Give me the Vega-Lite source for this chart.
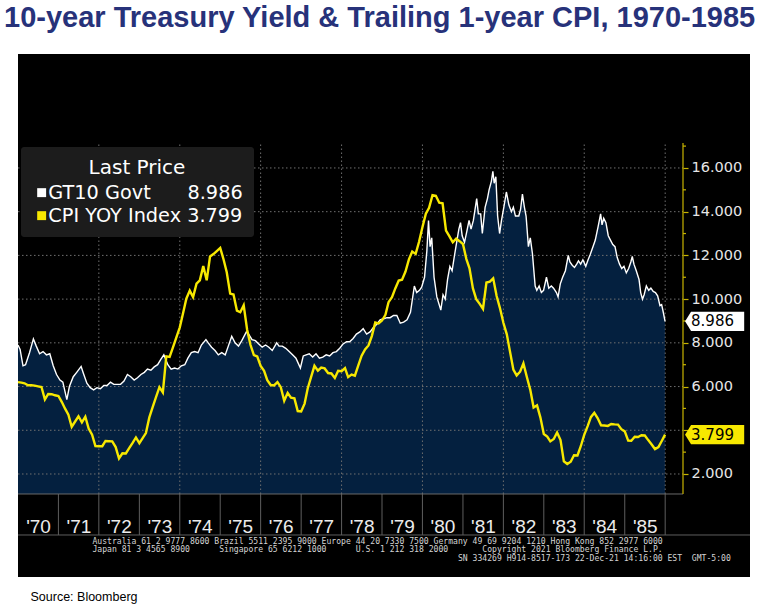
{
  "$schema": "https://vega.github.io/schema/vega-lite/v6.json",
  "width": 732,
  "height": 523,
  "autosize": "none",
  "padding": {"left": 18, "top": 54, "right": 21, "bottom": 32},
  "background": "#ffffff",
  "title": {
    "text": "10-year Treasury Yield & Trailing 1-year CPI, 1970-1985",
    "anchor": "start",
    "frame": "group",
    "font": "Liberation Sans",
    "fontSize": 29,
    "fontWeight": "bold",
    "color": "#27327a",
    "dx": -14,
    "dy": 28,
    "offset": 26,
    "baseline": "alphabetic"
  },
  "config": {
    "view": {"fill": "#000000", "stroke": null}
  },
  "datasets": {
    "gt": [
      {"d":"1970-01-01","v":7.90},{"d":"1970-01-20","v":7.70},{"d":"1970-02-15","v":6.95},{"d":"1970-03-10","v":7.00},{"d":"1970-04-15","v":7.55},{"d":"1970-05-20","v":8.18},{"d":"1970-06-15","v":7.85},{"d":"1970-07-15","v":7.50},{"d":"1970-08-15","v":7.60},{"d":"1970-09-15","v":7.45},{"d":"1970-10-15","v":7.50},{"d":"1970-11-15","v":6.95},{"d":"1970-12-15","v":6.55},
      {"d":"1971-01-15","v":6.30},{"d":"1971-02-10","v":6.20},{"d":"1971-03-18","v":5.40},{"d":"1971-04-10","v":6.00},{"d":"1971-05-15","v":6.45},{"d":"1971-06-15","v":6.65},{"d":"1971-07-25","v":6.92},{"d":"1971-08-15","v":6.60},{"d":"1971-09-15","v":6.15},{"d":"1971-10-15","v":5.95},{"d":"1971-11-15","v":5.85},{"d":"1971-12-15","v":5.95},
      {"d":"1972-01-15","v":5.90},{"d":"1972-02-15","v":6.05},{"d":"1972-03-15","v":6.05},{"d":"1972-04-15","v":6.20},{"d":"1972-05-15","v":6.10},{"d":"1972-06-15","v":6.10},{"d":"1972-07-15","v":6.10},{"d":"1972-08-15","v":6.25},{"d":"1972-09-15","v":6.55},{"d":"1972-10-15","v":6.45},{"d":"1972-11-15","v":6.30},{"d":"1972-12-15","v":6.40},
      {"d":"1973-01-15","v":6.55},{"d":"1973-02-15","v":6.65},{"d":"1973-03-15","v":6.80},{"d":"1973-04-15","v":6.75},{"d":"1973-05-15","v":6.90},{"d":"1973-06-15","v":7.00},{"d":"1973-07-15","v":7.25},{"d":"1973-08-10","v":7.45},{"d":"1973-09-15","v":7.00},{"d":"1973-10-15","v":6.80},{"d":"1973-11-15","v":6.85},{"d":"1973-12-15","v":6.80},
      {"d":"1974-01-15","v":6.95},{"d":"1974-02-15","v":7.00},{"d":"1974-03-15","v":7.30},{"d":"1974-04-15","v":7.55},{"d":"1974-05-15","v":7.60},{"d":"1974-06-15","v":7.55},{"d":"1974-07-15","v":7.90},{"d":"1974-08-25","v":8.15},{"d":"1974-09-15","v":8.00},{"d":"1974-10-15","v":7.80},{"d":"1974-11-15","v":7.65},{"d":"1974-12-15","v":7.45},
      {"d":"1975-01-15","v":7.55},{"d":"1975-02-15","v":7.45},{"d":"1975-03-15","v":7.85},{"d":"1975-04-15","v":8.30},{"d":"1975-05-15","v":8.00},{"d":"1975-06-15","v":7.85},{"d":"1975-07-15","v":8.10},{"d":"1975-08-25","v":8.50},{"d":"1975-09-15","v":8.40},{"d":"1975-10-15","v":8.15},{"d":"1975-11-15","v":8.10},{"d":"1975-12-15","v":7.95},
      {"d":"1976-01-15","v":7.80},{"d":"1976-02-15","v":7.90},{"d":"1976-03-15","v":7.80},{"d":"1976-04-15","v":7.65},{"d":"1976-05-25","v":8.00},{"d":"1976-06-15","v":7.85},{"d":"1976-07-15","v":7.85},{"d":"1976-08-15","v":7.75},{"d":"1976-09-15","v":7.60},{"d":"1976-10-15","v":7.45},{"d":"1976-11-15","v":7.30},{"d":"1976-12-25","v":6.85},
      {"d":"1977-01-20","v":7.40},{"d":"1977-02-15","v":7.45},{"d":"1977-03-15","v":7.50},{"d":"1977-04-15","v":7.35},{"d":"1977-05-15","v":7.50},{"d":"1977-06-15","v":7.30},{"d":"1977-07-15","v":7.35},{"d":"1977-08-15","v":7.45},{"d":"1977-09-15","v":7.40},{"d":"1977-10-15","v":7.55},{"d":"1977-11-15","v":7.60},{"d":"1977-12-15","v":7.75},
      {"d":"1978-01-15","v":7.95},{"d":"1978-02-15","v":8.05},{"d":"1978-03-15","v":8.05},{"d":"1978-04-15","v":8.20},{"d":"1978-05-15","v":8.40},{"d":"1978-06-15","v":8.50},{"d":"1978-07-15","v":8.65},{"d":"1978-08-15","v":8.40},{"d":"1978-09-15","v":8.50},{"d":"1978-10-15","v":8.70},{"d":"1978-11-15","v":8.85},{"d":"1978-12-15","v":9.05},
      {"d":"1979-01-15","v":9.10},{"d":"1979-02-15","v":9.15},{"d":"1979-03-15","v":9.15},{"d":"1979-04-15","v":9.25},{"d":"1979-05-15","v":9.25},{"d":"1979-06-15","v":8.90},{"d":"1979-07-15","v":8.95},{"d":"1979-08-15","v":9.05},{"d":"1979-09-15","v":9.40},{"d":"1979-10-20","v":10.60},{"d":"1979-11-10","v":10.30},{"d":"1979-12-05","v":10.40},{"d":"1979-12-25","v":10.55},
      {"d":"1980-01-20","v":11.00},{"d":"1980-02-10","v":12.20},{"d":"1980-02-25","v":13.60},{"d":"1980-03-10","v":12.40},{"d":"1980-03-25","v":12.80},{"d":"1980-04-15","v":11.00},{"d":"1980-05-10","v":10.10},{"d":"1980-06-15","v":9.50},{"d":"1980-07-05","v":10.20},{"d":"1980-07-25","v":10.00},{"d":"1980-08-15","v":10.90},{"d":"1980-09-05","v":11.50},{"d":"1980-09-25","v":11.30},{"d":"1980-10-15","v":11.95},{"d":"1980-11-05","v":12.60},{"d":"1980-11-25","v":13.20},{"d":"1980-12-10","v":13.50},{"d":"1980-12-25","v":12.90},
      {"d":"1981-01-15","v":12.60},{"d":"1981-02-05","v":13.10},{"d":"1981-02-25","v":13.60},{"d":"1981-03-15","v":13.20},{"d":"1981-04-05","v":13.60},{"d":"1981-05-05","v":14.60},{"d":"1981-05-20","v":13.90},{"d":"1981-06-10","v":13.90},{"d":"1981-06-25","v":13.00},{"d":"1981-07-20","v":14.20},{"d":"1981-08-10","v":14.60},{"d":"1981-08-25","v":15.00},{"d":"1981-09-15","v":15.40},{"d":"1981-09-28","v":15.85},{"d":"1981-10-10","v":15.30},{"d":"1981-10-25","v":15.60},{"d":"1981-11-10","v":13.80},{"d":"1981-11-28","v":13.00},{"d":"1981-12-15","v":13.60},
      {"d":"1982-01-05","v":14.20},{"d":"1982-01-28","v":14.90},{"d":"1982-02-20","v":14.30},{"d":"1982-03-15","v":14.00},{"d":"1982-04-01","v":14.20},{"d":"1982-04-20","v":13.80},{"d":"1982-05-20","v":13.80},{"d":"1982-06-05","v":14.10},{"d":"1982-06-22","v":14.80},{"d":"1982-07-10","v":14.20},{"d":"1982-07-25","v":13.80},{"d":"1982-08-15","v":12.40},{"d":"1982-09-01","v":12.80},{"d":"1982-09-20","v":12.10},{"d":"1982-10-15","v":10.60},{"d":"1982-10-30","v":10.40},{"d":"1982-11-20","v":10.60},{"d":"1982-12-10","v":10.30},{"d":"1982-12-30","v":10.40},
      {"d":"1983-01-25","v":11.00},{"d":"1983-02-15","v":10.50},{"d":"1983-03-10","v":10.60},{"d":"1983-03-30","v":10.50},{"d":"1983-04-25","v":10.30},{"d":"1983-05-10","v":10.10},{"d":"1983-05-30","v":10.70},{"d":"1983-06-20","v":11.00},{"d":"1983-07-15","v":11.30},{"d":"1983-08-10","v":12.00},{"d":"1983-08-25","v":11.70},{"d":"1983-09-15","v":11.55},{"d":"1983-10-05","v":11.45},{"d":"1983-10-25","v":11.60},{"d":"1983-11-10","v":11.75},{"d":"1983-11-30","v":11.60},{"d":"1983-12-20","v":11.80},
      {"d":"1984-01-15","v":11.50},{"d":"1984-02-05","v":11.80},{"d":"1984-02-25","v":12.05},{"d":"1984-03-20","v":12.40},{"d":"1984-04-10","v":12.70},{"d":"1984-05-05","v":13.30},{"d":"1984-05-28","v":13.90},{"d":"1984-06-10","v":13.40},{"d":"1984-06-25","v":13.70},{"d":"1984-07-15","v":13.50},{"d":"1984-08-05","v":12.90},{"d":"1984-08-25","v":12.70},{"d":"1984-09-15","v":12.50},{"d":"1984-10-05","v":12.40},{"d":"1984-10-25","v":11.90},{"d":"1984-11-15","v":11.60},{"d":"1984-12-05","v":11.40},{"d":"1984-12-25","v":11.50},
      {"d":"1985-01-15","v":11.20},{"d":"1985-02-05","v":11.40},{"d":"1985-02-25","v":11.70},{"d":"1985-03-10","v":11.95},{"d":"1985-03-25","v":11.60},{"d":"1985-04-15","v":11.30},{"d":"1985-05-10","v":10.90},{"d":"1985-05-25","v":10.30},{"d":"1985-06-10","v":10.00},{"d":"1985-06-25","v":10.20},{"d":"1985-07-15","v":10.60},{"d":"1985-08-05","v":10.40},{"d":"1985-08-25","v":10.50},{"d":"1985-09-15","v":10.35},{"d":"1985-10-05","v":10.30},{"d":"1985-10-25","v":10.15},{"d":"1985-11-15","v":9.70},{"d":"1985-11-30","v":9.75},{"d":"1985-12-15","v":9.40},{"d":"1985-12-31","v":8.986}
    ],
    "cpi": [
      {"d":"1970-01-01","v":6.2},{"d":"1970-02-01","v":6.18},{"d":"1970-03-01","v":6.15},{"d":"1970-04-01","v":6.06},{"d":"1970-05-01","v":6.06},{"d":"1970-06-01","v":6.04},{"d":"1970-07-01","v":6.01},{"d":"1970-08-01","v":5.98},{"d":"1970-09-01","v":5.41},{"d":"1970-10-01","v":5.66},{"d":"1970-11-01","v":5.65},{"d":"1970-12-01","v":5.60},
      {"d":"1971-01-01","v":5.57},{"d":"1971-02-01","v":5.29},{"d":"1971-03-01","v":5.00},{"d":"1971-04-01","v":4.71},{"d":"1971-05-01","v":4.16},{"d":"1971-06-01","v":4.40},{"d":"1971-07-01","v":4.64},{"d":"1971-08-01","v":4.36},{"d":"1971-09-01","v":4.62},{"d":"1971-10-01","v":4.08},{"d":"1971-11-01","v":3.80},{"d":"1971-12-01","v":3.28},
      {"d":"1972-01-01","v":3.27},{"d":"1972-02-01","v":3.27},{"d":"1972-03-01","v":3.51},{"d":"1972-04-01","v":3.50},{"d":"1972-05-01","v":3.49},{"d":"1972-06-01","v":3.23},{"d":"1972-07-01","v":2.71},{"d":"1972-08-01","v":2.95},{"d":"1972-09-01","v":2.94},{"d":"1972-10-01","v":3.18},{"d":"1972-11-01","v":3.42},{"d":"1972-12-01","v":3.67},
      {"d":"1973-01-01","v":3.41},{"d":"1973-02-01","v":3.65},{"d":"1973-03-01","v":3.87},{"d":"1973-04-01","v":4.59},{"d":"1973-05-01","v":5.06},{"d":"1973-06-01","v":5.53},{"d":"1973-07-01","v":5.97},{"d":"1973-08-01","v":5.73},{"d":"1973-09-01","v":7.38},{"d":"1973-10-01","v":7.36},{"d":"1973-11-01","v":7.80},{"d":"1973-12-01","v":8.25},
      {"d":"1974-01-01","v":8.71},{"d":"1974-02-01","v":9.39},{"d":"1974-03-01","v":10.02},{"d":"1974-04-01","v":10.39},{"d":"1974-05-01","v":10.09},{"d":"1974-06-01","v":10.71},{"d":"1974-07-01","v":10.86},{"d":"1974-08-01","v":11.51},{"d":"1974-09-01","v":10.86},{"d":"1974-10-01","v":11.95},{"d":"1974-11-01","v":12.06},{"d":"1974-12-01","v":12.20},
      {"d":"1975-01-01","v":12.34},{"d":"1975-02-01","v":11.80},{"d":"1975-03-01","v":11.23},{"d":"1975-04-01","v":10.25},{"d":"1975-05-01","v":10.21},{"d":"1975-06-01","v":9.47},{"d":"1975-07-01","v":9.40},{"d":"1975-08-01","v":9.72},{"d":"1975-09-01","v":8.60},{"d":"1975-10-01","v":7.91},{"d":"1975-11-01","v":7.44},{"d":"1975-12-01","v":7.38},
      {"d":"1976-01-01","v":6.94},{"d":"1976-02-01","v":6.72},{"d":"1976-03-01","v":6.29},{"d":"1976-04-01","v":6.07},{"d":"1976-05-01","v":6.05},{"d":"1976-06-01","v":6.20},{"d":"1976-07-01","v":5.97},{"d":"1976-08-01","v":5.35},{"d":"1976-09-01","v":5.71},{"d":"1976-10-01","v":5.49},{"d":"1976-11-01","v":5.46},{"d":"1976-12-01","v":4.88},
      {"d":"1977-01-01","v":4.86},{"d":"1977-02-01","v":5.22},{"d":"1977-03-01","v":5.91},{"d":"1977-04-01","v":6.44},{"d":"1977-05-01","v":6.95},{"d":"1977-06-01","v":6.73},{"d":"1977-07-01","v":6.87},{"d":"1977-08-01","v":6.83},{"d":"1977-09-01","v":6.62},{"d":"1977-10-01","v":6.60},{"d":"1977-11-01","v":6.39},{"d":"1977-12-01","v":6.72},
      {"d":"1978-01-01","v":6.70},{"d":"1978-02-01","v":6.84},{"d":"1978-03-01","v":6.43},{"d":"1978-04-01","v":6.55},{"d":"1978-05-01","v":6.50},{"d":"1978-06-01","v":6.97},{"d":"1978-07-01","v":7.41},{"d":"1978-08-01","v":7.70},{"d":"1978-09-01","v":7.88},{"d":"1978-10-01","v":8.31},{"d":"1978-11-01","v":8.93},{"d":"1978-12-01","v":8.89},
      {"d":"1979-01-01","v":9.02},{"d":"1979-02-01","v":9.28},{"d":"1979-03-01","v":9.86},{"d":"1979-04-01","v":10.09},{"d":"1979-05-01","v":10.49},{"d":"1979-06-01","v":10.85},{"d":"1979-07-01","v":10.89},{"d":"1979-08-01","v":11.26},{"d":"1979-09-01","v":11.82},{"d":"1979-10-01","v":12.18},{"d":"1979-11-01","v":12.07},{"d":"1979-12-01","v":12.61},
      {"d":"1980-01-01","v":13.29},{"d":"1980-02-01","v":13.91},{"d":"1980-03-01","v":14.18},{"d":"1980-04-01","v":14.76},{"d":"1980-05-01","v":14.73},{"d":"1980-06-01","v":14.41},{"d":"1980-07-01","v":14.38},{"d":"1980-08-01","v":13.13},{"d":"1980-09-01","v":12.87},{"d":"1980-10-01","v":12.60},{"d":"1980-11-01","v":12.77},{"d":"1980-12-01","v":12.65},
      {"d":"1981-01-01","v":12.52},{"d":"1981-02-01","v":11.83},{"d":"1981-03-01","v":11.41},{"d":"1981-04-01","v":10.49},{"d":"1981-05-01","v":10.00},{"d":"1981-06-01","v":9.78},{"d":"1981-07-01","v":9.55},{"d":"1981-08-01","v":10.76},{"d":"1981-09-01","v":10.80},{"d":"1981-10-01","v":10.95},{"d":"1981-11-01","v":10.14},{"d":"1981-12-01","v":9.59},
      {"d":"1982-01-01","v":8.92},{"d":"1982-02-01","v":8.39},{"d":"1982-03-01","v":7.62},{"d":"1982-04-01","v":6.78},{"d":"1982-05-01","v":6.51},{"d":"1982-06-01","v":6.68},{"d":"1982-07-01","v":7.06},{"d":"1982-08-01","v":6.44},{"d":"1982-09-01","v":5.85},{"d":"1982-10-01","v":5.04},{"d":"1982-11-01","v":5.14},{"d":"1982-12-01","v":4.59},
      {"d":"1983-01-01","v":3.83},{"d":"1983-02-01","v":3.71},{"d":"1983-03-01","v":3.49},{"d":"1983-04-01","v":3.60},{"d":"1983-05-01","v":3.90},{"d":"1983-06-01","v":3.55},{"d":"1983-07-01","v":2.58},{"d":"1983-08-01","v":2.46},{"d":"1983-09-01","v":2.56},{"d":"1983-10-01","v":2.86},{"d":"1983-11-01","v":2.85},{"d":"1983-12-01","v":3.27},
      {"d":"1984-01-01","v":3.79},{"d":"1984-02-01","v":4.19},{"d":"1984-03-01","v":4.60},{"d":"1984-04-01","v":4.80},{"d":"1984-05-01","v":4.56},{"d":"1984-06-01","v":4.23},{"d":"1984-07-01","v":4.22},{"d":"1984-08-01","v":4.20},{"d":"1984-09-01","v":4.29},{"d":"1984-10-01","v":4.27},{"d":"1984-11-01","v":4.26},{"d":"1984-12-01","v":4.05},
      {"d":"1985-01-01","v":3.95},{"d":"1985-02-01","v":3.53},{"d":"1985-03-01","v":3.52},{"d":"1985-04-01","v":3.70},{"d":"1985-05-01","v":3.69},{"d":"1985-06-01","v":3.77},{"d":"1985-07-01","v":3.76},{"d":"1985-08-01","v":3.55},{"d":"1985-09-01","v":3.35},{"d":"1985-10-01","v":3.14},{"d":"1985-11-01","v":3.23},{"d":"1985-12-01","v":3.51},{"d":"1985-12-31","v":3.799}
    ],
    "last": [
      {"s":"GT10 Govt","d":"1985-12-31","v":8.986},
      {"s":"CPI YOY Index","d":"1985-12-31","v":3.799}
    ],
    "hgrid": [{"v":2},{"v":4},{"v":6},{"v":8},{"v":10},{"v":12},{"v":14},{"v":16}],
    "minor": [{"v":3},{"v":5},{"v":7},{"v":9},{"v":11},{"v":13},{"v":15},{"v":17}],
    "vgrid": [{"d":"1972-01-01"},{"d":"1974-01-01"},{"d":"1976-01-01"},{"d":"1978-01-01"},{"d":"1980-01-01"},{"d":"1982-01-01"},{"d":"1984-01-01"},{"d":"1986-01-01"}],
    "years": [{"d":"1971-01-01"},{"d":"1972-01-01"},{"d":"1973-01-01"},{"d":"1974-01-01"},{"d":"1975-01-01"},{"d":"1976-01-01"},{"d":"1977-01-01"},{"d":"1978-01-01"},{"d":"1979-01-01"},{"d":"1980-01-01"},{"d":"1981-01-01"},{"d":"1982-01-01"},{"d":"1983-01-01"},{"d":"1984-01-01"},{"d":"1985-01-01"},{"d":"1986-01-01"}]
  },
  "layer": [
    {
      "data": {"name": "gt"},
      "mark": {"type": "area", "color": "#04203f", "opacity": 1},
      "encoding": {
        "x": {
          "field": "d", "type": "temporal",
          "scale": {"type": "utc", "domain": [{"year": 1970, "month": 1, "date": 1, "utc": true}, {"year": 1988, "month": 2, "date": 6, "utc": true}]},
          "axis": {
            "orient": "bottom", "offset": -83, "zindex": 2,
            "values": [{"year":1970,"month":1,"date":1,"utc":true},{"year":1971,"month":1,"date":1,"utc":true},{"year":1972,"month":1,"date":1,"utc":true},{"year":1973,"month":1,"date":1,"utc":true},{"year":1974,"month":1,"date":1,"utc":true},{"year":1975,"month":1,"date":1,"utc":true},{"year":1976,"month":1,"date":1,"utc":true},{"year":1977,"month":1,"date":1,"utc":true},{"year":1978,"month":1,"date":1,"utc":true},{"year":1979,"month":1,"date":1,"utc":true},{"year":1980,"month":1,"date":1,"utc":true},{"year":1981,"month":1,"date":1,"utc":true},{"year":1982,"month":1,"date":1,"utc":true},{"year":1983,"month":1,"date":1,"utc":true},{"year":1984,"month":1,"date":1,"utc":true},{"year":1985,"month":1,"date":1,"utc":true}],
            "labelExpr": "\"'\" + utcFormat(datum.value, '%y')",
            "domain": false, "grid": false, "ticks": false,
            "labelAlign": "center", "labelBaseline": "alphabetic", "labelPadding": 38, "labelOffset": 20,
            "labelFont": "Liberation Sans", "labelFontSize": 19, "labelColor": "#ececec",
            "labelFlush": false, "labelOverlap": false, "labelBound": false,
            "title": [
              "Australia 61 2 9777 8600 Brazil 5511 2395 9000 Europe 44 20 7330 7500 Germany 49 69 9204 1210 Hong Kong 852 2977 6000",
              "Japan 81 3 4565 8900\u00a0\u00a0\u00a0\u00a0\u00a0\u00a0Singapore 65 6212 1000\u00a0\u00a0\u00a0\u00a0\u00a0\u00a0U.S. 1 212 318 2000\u00a0\u00a0\u00a0\u00a0\u00a0\u00a0\u00a0Copyright 2021 Bloomberg Finance L.P.",
              "\u200b\u00a0\u00a0\u00a0\u00a0\u00a0\u00a0\u00a0\u00a0\u00a0\u00a0\u00a0\u00a0\u00a0\u00a0\u00a0\u00a0\u00a0\u00a0\u00a0\u00a0\u00a0\u00a0\u00a0\u00a0\u00a0\u00a0\u00a0\u00a0\u00a0\u00a0\u00a0\u00a0\u00a0\u00a0\u00a0\u00a0\u00a0\u00a0\u00a0\u00a0\u00a0\u00a0\u00a0\u00a0\u00a0\u00a0\u00a0\u00a0\u00a0\u00a0\u00a0\u00a0\u00a0\u00a0\u00a0\u00a0\u00a0\u00a0\u00a0\u00a0\u00a0\u00a0\u00a0\u00a0\u00a0\u00a0\u00a0\u00a0\u00a0\u00a0\u00a0\u00a0\u00a0\u00a0\u00a0SN 334269 H914-8517-173 22-Dec-21 14:16:00 EST\u00a0\u00a0GMT-5:00"
            ],
            "titleFont": "DejaVu Sans Mono", "titleFontSize": 8.1, "titleLineHeight": 8.5, "titleColor": "#d4d4d4",
            "titleFontWeight": "normal", "titleAlign": "left", "titleAnchor": "start", "titleBaseline": "top",
            "titleX": 74, "titleY": 43
          }
        },
        "y": {
          "field": "v", "type": "quantitative",
          "scale": {"domain": [-2.712, 21.213], "nice": false, "zero": false},
          "axis": {
            "orient": "left", "domain": false, "ticks": false, "labels": false, "grid": false,
            "title": "Source: Bloomberg", "titleAngle": 0, "titleX": 12, "titleY": 542,
            "titleAlign": "left", "titleBaseline": "middle", "titleFont": "Liberation Sans",
            "titleFontSize": 12.5, "titleFontWeight": "normal", "titleColor": "#000000"
          }
        },
        "y2": {"datum": 1.085}
      }
    },
    {
      "data": {"name": "hgrid"},
      "mark": {"type": "rule", "color": "#707070", "strokeWidth": 1, "strokeDash": [1.5, 2.5]},
      "encoding": {
        "y": {"field": "v", "type": "quantitative", "axis": null},
        "x": {"datum": {"year": 1970, "month": 1, "date": 1, "utc": true}, "type": "temporal"},
        "x2": {"datum": {"year": 1986, "month": 6, "date": 11, "utc": true}}
      }
    },
    {
      "data": {"name": "vgrid"},
      "mark": {"type": "rule", "color": "#707070", "strokeWidth": 1, "strokeDash": [1.5, 2.5]},
      "encoding": {
        "x": {"field": "d", "type": "temporal"},
        "y": {"datum": 1.085, "type": "quantitative", "axis": null},
        "y2": {"datum": 17.14}
      }
    },
    {
      "data": {"name": "years"},
      "mark": {"type": "rule", "color": "#5e5e5e", "strokeWidth": 1},
      "encoding": {
        "x": {"field": "d", "type": "temporal"},
        "y": {"datum": 1.085, "type": "quantitative", "axis": null},
        "y2": {"datum": -0.79}
      }
    },
    {
      "data": {"values": [{}]},
      "mark": {"type": "rule", "color": "#6a6a6a", "strokeWidth": 1},
      "encoding": {
        "y": {"datum": 1.085, "type": "quantitative", "axis": null},
        "x": {"datum": {"year": 1970, "month": 1, "date": 1, "utc": true}, "type": "temporal"},
        "x2": {"datum": {"year": 1986, "month": 6, "date": 11, "utc": true}}
      }
    },
    {
      "data": {"values": [{}]},
      "mark": {"type": "rule", "color": "#5e5e5e", "strokeWidth": 1},
      "encoding": {
        "y": {"datum": -0.79, "type": "quantitative", "axis": null}
      }
    },
    {
      "data": {"values": [{}]},
      "mark": {"type": "rule", "color": "#c8b400", "strokeWidth": 1.2},
      "encoding": {
        "x": {"datum": {"year": 1986, "month": 6, "date": 11, "utc": true}, "type": "temporal"},
        "y": {"datum": 1.085, "type": "quantitative", "axis": null},
        "y2": {"datum": 17.14}
      }
    },
    {
      "data": {"name": "minor"},
      "mark": {"type": "tick", "orient": "horizontal", "color": "#c8b400", "size": 3, "thickness": 1.2, "xOffset": 1.5, "opacity": 1},
      "encoding": {
        "x": {"datum": {"year": 1986, "month": 6, "date": 11, "utc": true}, "type": "temporal"},
        "y": {"field": "v", "type": "quantitative", "axis": null}
      }
    },
    {
      "data": {"name": "gt"},
      "mark": {"type": "line", "strokeWidth": 1.4, "interpolate": "linear"},
      "encoding": {
        "x": {"field": "d", "type": "temporal"},
        "y": {
          "field": "v", "type": "quantitative",
          "axis": {
            "orient": "right", "offset": -67,
            "values": [2, 4, 6, 8, 10, 12, 14, 16],
            "labelExpr": "datum.value == 4 ? '' : format(datum.value, '.3f')",
            "domain": false, "grid": false, "ticks": true, "tickSize": 5, "tickColor": "#c8b400", "tickWidth": 1.2,
            "labelColor": "#e6e6e6", "labelFont": "DejaVu Sans", "labelFontSize": 14.5, "labelPadding": 3,
            "labelBaseline": "middle", "labelFlush": false, "labelOverlap": false, "title": null
          }
        },
        "color": {
          "datum": "GT10 Govt",
          "scale": {"domain": ["GT10 Govt", "CPI YOY Index"], "range": ["#ffffff", "#f7e800"]},
          "legend": {
            "orient": "none", "legendX": 3, "legendY": 93,
            "title": "Last Price", "fillColor": "#1c1c1c", "padding": 11, "cornerRadius": 3,
            "titleAnchor": "middle", "titleAlign": "center", "titleFontSize": 20, "titleColor": "#ffffff",
            "titleFont": "DejaVu Sans", "titleFontWeight": "normal", "titlePadding": 5,
            "labelFont": "DejaVu Sans", "labelFontSize": 19.3, "labelColor": "#ffffff", "labelLimit": 400,
            "labelOffset": -3, "rowPadding": 3,
            "symbolType": "square", "symbolSize": 80, "symbolStrokeWidth": 0,
            "labelExpr": "datum.label == 'GT10 Govt' ? 'GT10 Govt\u00a0\u00a0\u00a0\u00a0\u00a0\u00a08.986' : 'CPI YOY Index 3.799'",
            "encode": {"symbols": {"update": {"fill": {"scale": "color", "field": "value"}, "stroke": {"value": "transparent"}}}}
          }
        }
      }
    },
    {
      "data": {"name": "cpi"},
      "mark": {"type": "line", "strokeWidth": 2.4, "interpolate": "linear"},
      "encoding": {
        "x": {"field": "d", "type": "temporal"},
        "y": {"field": "v", "type": "quantitative", "axis": null},
        "color": {"datum": "CPI YOY Index"}
      }
    },
    {
      "data": {"name": "last"},
      "mark": {"type": "point", "shape": "M -1 0 L -0.8 -0.32 L 0.97 -0.32 L 0.97 0.32 L -0.8 0.32 Z", "size": 3600, "filled": true, "opacity": 1, "strokeWidth": 0, "xOffset": 50},
      "encoding": {
        "x": {"field": "d", "type": "temporal"},
        "y": {"field": "v", "type": "quantitative", "axis": null},
        "fill": {"field": "s", "type": "nominal", "scale": {"domain": ["GT10 Govt", "CPI YOY Index"], "range": ["#ffffff", "#f7e800"]}, "legend": null}
      }
    },
    {
      "data": {"name": "last"},
      "mark": {"type": "text", "align": "left", "baseline": "middle", "dx": 26, "font": "DejaVu Sans", "fontSize": 15, "color": "#000000"},
      "encoding": {
        "x": {"field": "d", "type": "temporal"},
        "y": {"field": "v", "type": "quantitative", "axis": null},
        "text": {"field": "v", "type": "quantitative", "format": ".3f"}
      }
    }
  ]
}
